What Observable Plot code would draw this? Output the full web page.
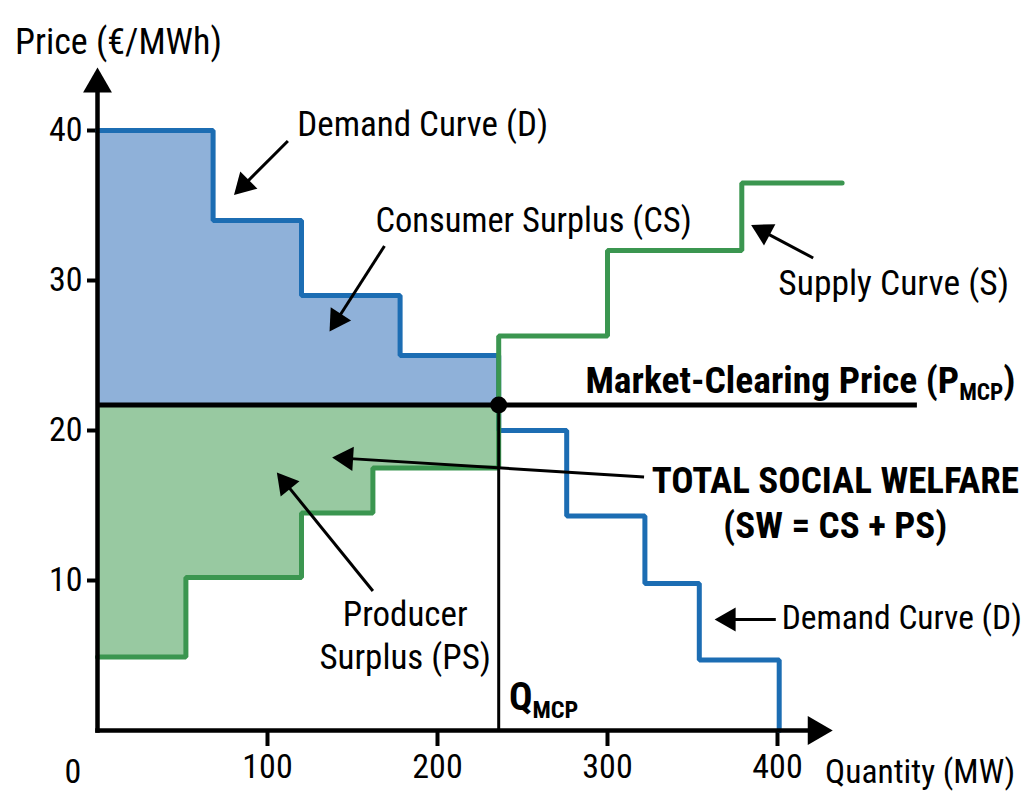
<!DOCTYPE html>
<html><head><meta charset="utf-8">
<script src="https://cdn.jsdelivr.net/npm/d3@7"></script>
<script src="https://cdn.jsdelivr.net/npm/@observablehq/plot@0.6"></script>
<style>body{margin:0;background:#fff;overflow:hidden}</style>
</head><body><div id="chart"></div>
<script>
// ---- data ----
const demandQ = [0, 68, 120, 178, 236, 276, 322, 354, 401];
const demandP = [40, 34, 29, 25, 20, 14.3, 9.8, 4.7, 0];
const supplyQ = [0, 52, 120, 162, 236, 300, 379, 438];
const supplyP = [4.9, 10.2, 14.5, 17.5, 26.3, 32, 36.5, 36.5];
const mcpQ = 236;
const mcpP = 21.7;
const mcpLineEndQ = 482;
const xTicks = [100, 200, 300, 400];
const yTicks = [10, 20, 30, 40];

// ---- layout ----
const W = 1024, H = 810, mL = 97, mR = 9, mT = 55, mB = 80;
const xMax = 540, yMax = 45;
const kx = (W - mL - mR) / xMax, ky = (H - mT - mB) / yMax;
const F = "'Roboto Condensed', Roboto, 'DejaVu Sans Condensed', sans-serif";
const BLUE = "#1c6db3", BLUE_FILL = "#8fb1d9", GREEN = "#3b9650", GREEN_FILL = "#98c9a1";

const demand = demandQ.map((q, i) => ({q, p: demandP[i]}));
const supply = supplyQ.map((q, i) => ({q, p: supplyP[i]}));
const csPts = demand.filter(d => d.q < mcpQ);
const csData = csPts.concat([{q: mcpQ, p: csPts[csPts.length - 1].p}]);
const psPts = supply.filter(d => d.q < mcpQ);
const psData = psPts.concat([{q: mcpQ, p: psPts[psPts.length - 1].p}]);

// arrows: {x1,y1,x2,y2}
const AXIS_HEAD = 25, NOTE_HEAD = 21;
const axisArrows = [
  {x1: 0, y1: 0, x2: 0, y2: 44.2},
  {x1: 0, y1: 0, x2: 432.5, y2: 0}
];
const noteArrows = [
  {x1: 112, y1: 39.3, x2: 80.3, y2: 35.7},
  {x1: 168.8, y1: 32.3, x2: 136.5, y2: 26.6},
  {x1: 421, y1: 31.5, x2: 384.5, y2: 33.7},
  {x1: 321.5, y1: 16.9, x2: 138, y2: 18.2},
  {x1: 162, y1: 9.3, x2: 105.5, y2: 17.2},
  {x1: 399, y1: 7.4, x2: 363, y2: 7.4}
];
const rOf = len => Math.sqrt(3 * Math.sqrt(3) / Math.PI) * len / 3;
function headOf(a, len) {
  const sx = (a.x2 - a.x1) * kx, sy = -(a.y2 - a.y1) * ky;
  const L = Math.hypot(sx, sy), ux = sx / L, uy = sy / L;
  const back = len * 2 / 3;
  return {
    x: a.x2 - back * ux / kx,
    y: a.y2 + back * uy / ky,
    angle: Math.atan2(ux, -uy) * 180 / Math.PI
  };
}
const axisHeads = axisArrows.map(a => headOf(a, AXIS_HEAD));
const noteHeads = noteArrows.map(a => headOf(a, NOTE_HEAD));
const axisShafts = axisArrows.map((a, i) => ({...a, x2: axisHeads[i].x, y2: axisHeads[i].y}));
const noteShafts = noteArrows.map((a, i) => ({...a, x2: noteHeads[i].x, y2: noteHeads[i].y}));

const T = (txt, o) => Plot.text([txt], {text: d => d, fontFamily: F, ...o});

const plot = Plot.plot({
  width: W, height: H,
  marginLeft: mL, marginRight: mR, marginTop: mT, marginBottom: mB,
  style: {fontFamily: F, fontStretch: "condensed", fontSize: "34px", background: "white", color: "black", overflow: "hidden"},
  x: {domain: [0, xMax], ticks: xTicks, tickSize: 16, tickPadding: 7, label: null},
  y: {domain: [0, yMax], ticks: yTicks, tickSize: 10, tickPadding: 5, label: null},
  marks: [
    Plot.areaY(csData, {x: "q", y1: mcpP, y2: "p", curve: "step-after", fill: BLUE_FILL}),
    Plot.areaY(psData, {x: "q", y1: "p", y2: mcpP, curve: "step-after", fill: GREEN_FILL}),
    Plot.line(demand, {x: "q", y: "p", curve: "step-after", stroke: BLUE, strokeWidth: 5, strokeLinejoin: "miter"}),
    Plot.line(supply, {x: "q", y: "p", curve: "step-after", stroke: GREEN, strokeWidth: 5, strokeLinejoin: "miter"}),
    Plot.link([{x1: mcpQ, y1: 0, x2: mcpQ, y2: mcpP}], {x1: "x1", y1: "y1", x2: "x2", y2: "y2", stroke: "black", strokeWidth: 3}),
    Plot.link([{x1: 0, y1: mcpP, x2: mcpLineEndQ, y2: mcpP}], {x1: "x1", y1: "y1", x2: "x2", y2: "y2", stroke: "black", strokeWidth: 5}),
    Plot.dot([{q: mcpQ, p: mcpP}], {x: "q", y: "p", r: 8.5, fill: "black"}),
    // axes with arrowheads
    Plot.link(axisShafts, {x1: "x1", y1: "y1", x2: "x2", y2: "y2", stroke: "black", strokeWidth: 4.5, strokeLinecap: "square"}),
    Plot.dot(axisHeads, {x: "x", y: "y", r: rOf(AXIS_HEAD), rotate: "angle", symbol: "triangle", fill: "black", stroke: null}),
    // annotation arrows
    Plot.link(noteShafts, {x1: "x1", y1: "y1", x2: "x2", y2: "y2", stroke: "black", strokeWidth: 3}),
    Plot.dot(noteHeads, {x: "x", y: "y", r: rOf(NOTE_HEAD), rotate: "angle", symbol: "triangle", fill: "black", stroke: null}),
    // labels
    T("Price (€/MWh)", {x: -48.5, y: 45.9, textAnchor: "start", fontSize: 36}),
    T("Quantity (MW)", {x: 428, y: -2.8, textAnchor: "start", fontSize: 33.5}),
    T("0", {x: -14.5, y: -2.8, fontSize: 34}),
    T("Demand Curve (D)", {x: 117.5, y: 40.4, textAnchor: "start", fontSize: 35}),
    T("Consumer Surplus (CS)", {x: 163.5, y: 34, textAnchor: "start", fontSize: 34.5}),
    T("Supply Curve (S)", {x: 400.5, y: 29.8, textAnchor: "start", fontSize: 35.5}),
    T("Market-Clearing Price (P", {x: 287, y: 23.3, textAnchor: "start", fontSize: 37.5, fontWeight: "bold"}),
    T("TOTAL SOCIAL WELFARE\n(SW = CS + PS)", {x: 434, y: 15.3, textAnchor: "middle", lineHeight: 1.22, fontSize: 37, fontWeight: "bold"}),
    T("Producer\nSurplus (PS)", {x: 181, y: 6.45, textAnchor: "middle", lineHeight: 1.22, fontSize: 35}),
    T("Demand Curve (D)", {x: 402.5, y: 7.5, textAnchor: "start", fontSize: 33.5}),
    T("Q", {x: 242, y: 2.2, textAnchor: "start", fontSize: 39, fontWeight: "bold"})
  ]
});

const svg = d3.select(plot);
svg.selectAll('g[aria-label="x-axis tick"], g[aria-label="y-axis tick"]').attr("stroke-width", 4);
svg.selectAll('.tick line').attr("stroke-width", 4);
svg.selectAll("text").each(function() {
  const t = d3.select(this);
  const s = this.textContent;
  if (s === "Market-Clearing Price (P" || s === "Q") {
    t.append("tspan").attr("dy", "0.32em").attr("font-size", "0.62em").text("MCP");
    if (s !== "Q") t.append("tspan").attr("dy", "-0.2em").text(")");
  }
});
document.getElementById("chart").append(plot);
</script>
</body></html>
